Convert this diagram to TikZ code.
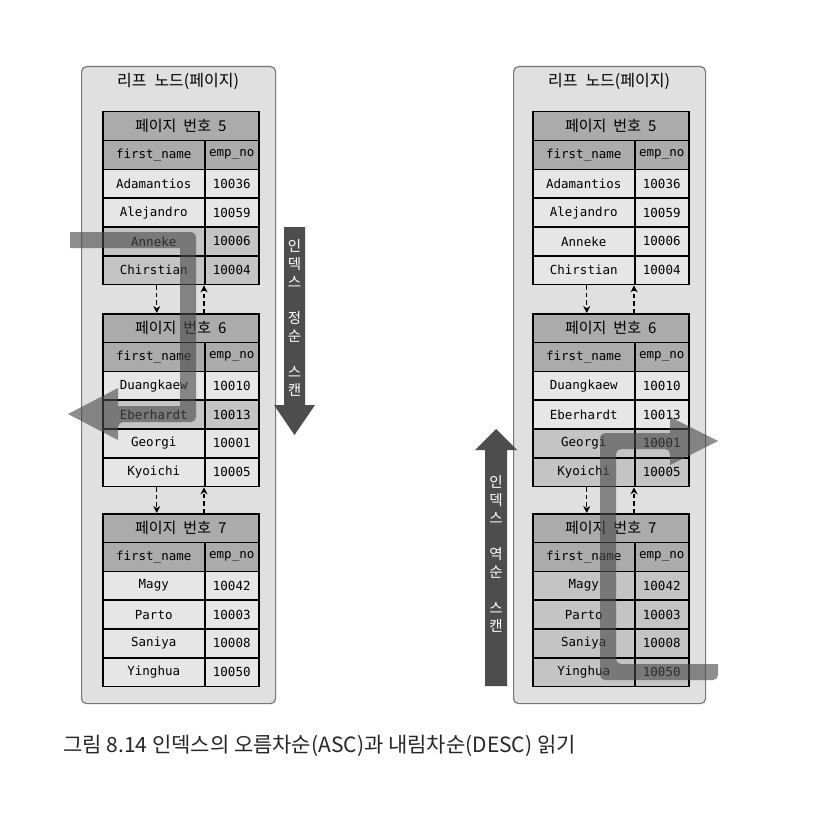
\documentclass[tikz,border=0pt]{standalone}
\usepackage{fontspec}
\setmainfont{Noto Sans CJK KR}
\newfontfamily\krf{Noto Sans CJK KR}
\newfontfamily\monof{DejaVu Sans Mono}
\usetikzlibrary{arrows.meta}
\definecolor{boxfill}{HTML}{E0E0E0}
\definecolor{boxline}{HTML}{777777}
\definecolor{hdrfill}{HTML}{ABABAB}
\definecolor{row0}{HTML}{E6E6E6}
\definecolor{row1}{HTML}{C4C4C4}
\definecolor{scanfill}{HTML}{4D4D4D}
\definecolor{pathfill}{HTML}{4A4A4A}
\newcommand{\hgap}{\hspace{7pt}}
\newcommand{\tgap}{\hspace{8pt}}
\tikzset{
  outerbox/.style={draw=boxline, fill=boxfill, line width=1.2pt, rounded corners=5pt},
  cellbase/.style={draw=black, line width=1.5pt, anchor=north west, inner sep=0pt, minimum height=28.8pt},
  hdrcell/.style={cellbase, fill=hdrfill, minimum width=156pt, font=\krf\fontsize{15}{17}\selectfont},
  colA/.style={cellbase, minimum width=102pt, font=\monof\fontsize{12.5}{14}\selectfont},
  colB/.style={cellbase, minimum width=54pt, font=\monof\fontsize{12.5}{14}\selectfont},
  linkarrow/.style={draw=black, line width=1.4pt, dash pattern=on 4.5pt off 3pt, -{Stealth[length=7pt,width=7pt]}},
  scanarrow/.style={fill=scanfill},
  scantext/.style={text=white, align=center, font=\krf\fontsize{14.5}{18}\selectfont},
  overlay/.style={fill=pathfill, fill opacity=0.62, rounded corners=5pt},
  titletext/.style={font=\krf\fontsize{16}{18}\selectfont},
}
\newcommand{\pgtable}[5]{%
  \node[hdrcell] (#1h) at ({#2},{-(#3)}) {페이지\hgap 번호\hgap #4};
  \node[colA, fill=hdrfill] (#1ca) at ({#2},{-(#3)-28.8}) {first\_name};
  \node[colB, fill=hdrfill] (#1cb) at ({#2+102},{-(#3)-28.8}) {emp\_no};
  \foreach \n/\e/\h [count=\i] in {#5} {
    \node[colA, fill=row\h] (#1a\i) at ({#2},{-(#3)-(\i+1)*28.8}) {\n};
    \node[colB, fill=row\h] (#1b\i) at ({#2+102},{-(#3)-(\i+1)*28.8}) {\e};
  }
}
\begin{document}
\begin{tikzpicture}[x=1pt,y=1pt]
\useasboundingbox (0,0) rectangle (812,-826);
\fill[white] (0,0) rectangle (812,-826);

% outer boxes
\node[outerbox, anchor=north west, minimum width=194pt, minimum height=637pt, inner sep=0pt] (lbox) at (81,-66) {};
\node[outerbox, anchor=north west, minimum width=192pt, minimum height=637pt, inner sep=0pt] (rbox) at (513,-66) {};
\node[titletext] (ltitle) at (178,-81) {리프\tgap 노드(페이지)};
\node[titletext] (rtitle) at (609,-81) {리프\tgap 노드(페이지)};

% left tables
\pgtable{L5}{102}{111}{5}{Adamantios/10036/0, Alejandro/10059/0, Anneke/10006/1, Chirstian/10004/1}
\pgtable{L6}{102}{313}{6}{Duangkaew/10010/0, Eberhardt/10013/1, Georgi/10001/0, Kyoichi/10005/0}
\pgtable{L7}{102}{513}{7}{Magy/10042/0, Parto/10003/0, Saniya/10008/0, Yinghua/10050/0}
% right tables
\pgtable{R5}{532}{111}{5}{Adamantios/10036/0, Alejandro/10059/0, Anneke/10006/0, Chirstian/10004/0}
\pgtable{R6}{532}{313}{6}{Duangkaew/10010/0, Eberhardt/10013/0, Georgi/10001/1, Kyoichi/10005/1}
\pgtable{R7}{532}{513}{7}{Magy/10042/1, Parto/10003/1, Saniya/10008/1, Yinghua/10050/1}

% page links
\foreach \p/\q in {L5/L6, L6/L7, R5/R6, R6/R7} {
  \draw[linkarrow] ([xshift=3pt]\p a4.south) -- ([xshift=3pt]\p a4.south |- \q h.north);
  \draw[linkarrow] (\q h.north -| \p b4.south west) -- (\p b4.south west);
}

% scan arrows
\fill[scanarrow] (284,-227) -- (305,-227) -- (305,-405) -- (315,-405) -- (294.5,-435) -- (274,-405) -- (284,-405) -- cycle;
\node[scantext] (lscan) at (294.5,-318) {인\\덱\\스\\[18pt]정\\순\\[18pt]스\\캔};
\fill[scanarrow] (485,-686) -- (507,-686) -- (507,-450) -- (517,-450) -- (496,-429) -- (475,-450) -- (485,-450) -- cycle;
\node[scantext] (rscan) at (496,-554) {인\\덱\\스\\[18pt]역\\순\\[18pt]스\\캔};

% traversal overlays
\fill[overlay] (70,-232) -- (196,-232) -- (196,-422) -- (118,-422) [sharp corners] -- (118,-440) -- (68,-414) -- (118,-388) -- (118,-406) -- (180,-406) -- (180,-248) -- (70,-248) -- cycle;
\fill[overlay] (718,-664) -- (616,-664) -- (616,-449) -- (670,-449) [sharp corners] -- (670,-465) -- (718,-441) -- (670,-417) -- (670,-433) [rounded corners=5pt] -- (600,-433) -- (600,-680) -- (718,-680) [sharp corners] -- cycle;

% caption
\node[anchor=base west, font=\krf\fontsize{21}{24}\selectfont, text=black!85, inner sep=0pt] (cap) at (63,-752) {그림 8.14 인덱스의 오름차순(ASC)과 내림차순(DESC) 읽기};
\end{tikzpicture}
\end{document}
